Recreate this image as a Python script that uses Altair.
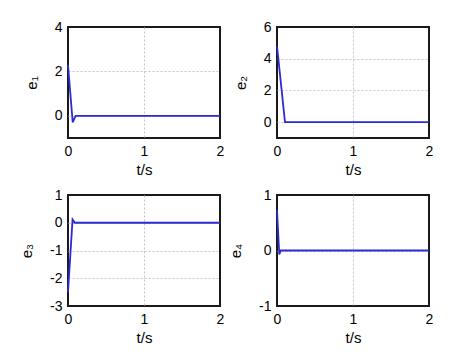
import altair as alt
import pandas as pd

# time points and series values
t1 = [0.0, 0.062, 0.10, 2.0]
e1 = [2.3, -0.3, 0.0, 0.0]

t2 = [0.0, 0.105, 2.0]
e2 = [4.8, 0.0, 0.0]

t3 = [0.0, 0.06, 0.09, 2.0]
e3 = [-2.5, 0.12, 0.0, 0.0]

t4 = [0.0, 0.03, 0.05, 2.0]
e4 = [0.73, -0.07, 0.0, 0.0]

titles = ["e\u2081", "e\u2082", "e\u2083", "e\u2084"]
domains = [[-1, 4], [-1, 6], [-3, 1], [-1, 1]]
yticks = [[0, 2, 4], [0, 2, 4, 6], [-3, -2, -1, 0, 1], [-1, 0, 1]]
xticks = [0, 1, 2]
xdomain = [0, 2]

FONT = "Liberation Sans"


def edge_hidden(lo, hi):
    return alt.condition(
        f"datum.value == {lo} || datum.value == {hi}", alt.value(0), alt.value(1)
    )


def panel(t, e, title, dom, ticks):
    df = pd.DataFrame({"t": t, "e": e})
    xa = alt.Axis(values=xticks, title="t/s", labelOverlap=False, labelSeparation=0,
                  labelExpr="replace(format(datum.value, 'd'), '\u2212', '-')",
                  labelFlush=False, gridOpacity=edge_hidden(xdomain[0], xdomain[1]))
    ya = alt.Axis(values=ticks, title=title, titlePadding=15, labelOverlap=False,
                  labelSeparation=0,
                  labelExpr="replace(format(datum.value, 'd'), '\u2212', '-')",
                  labelFlush=False, gridOpacity=edge_hidden(dom[0], dom[1]))
    return alt.Chart(df).mark_line(color="#2a2ad6", strokeWidth=1.8).encode(
        x=alt.X("t:Q", scale=alt.Scale(domain=xdomain, nice=False, zero=False), axis=xa),
        y=alt.Y("e:Q", scale=alt.Scale(domain=dom, nice=False, zero=False), axis=ya),
    ).properties(width=152, height=111)


charts = [
    panel(t1, e1, titles[0], domains[0], yticks[0]),
    panel(t2, e2, titles[1], domains[1], yticks[1]),
    panel(t3, e3, titles[2], domains[2], yticks[2]),
    panel(t4, e4, titles[3], domains[3], yticks[3]),
]

chart = alt.concat(*charts, columns=2, spacing=57, bounds="flush").properties(
    padding={"left": 18, "top": 19, "right": 5, "bottom": 5},
    background="white",
).configure_view(
    stroke="#1a1a1a", strokeWidth=2
).configure_axis(
    domain=False, ticks=False,
    grid=True, gridColor="#c4c4c4", gridDash=[2, 2], gridWidth=1,
    labelFont=FONT, labelFontSize=14, labelColor="black", labelPadding=6,
    titleFont=FONT, titleFontSize=15, titleFontWeight="normal", titleColor="black",
).configure_axisX(
    titlePadding=4
)

chart.save("out.html", embed_options={"renderer": "svg", "actions": False})
